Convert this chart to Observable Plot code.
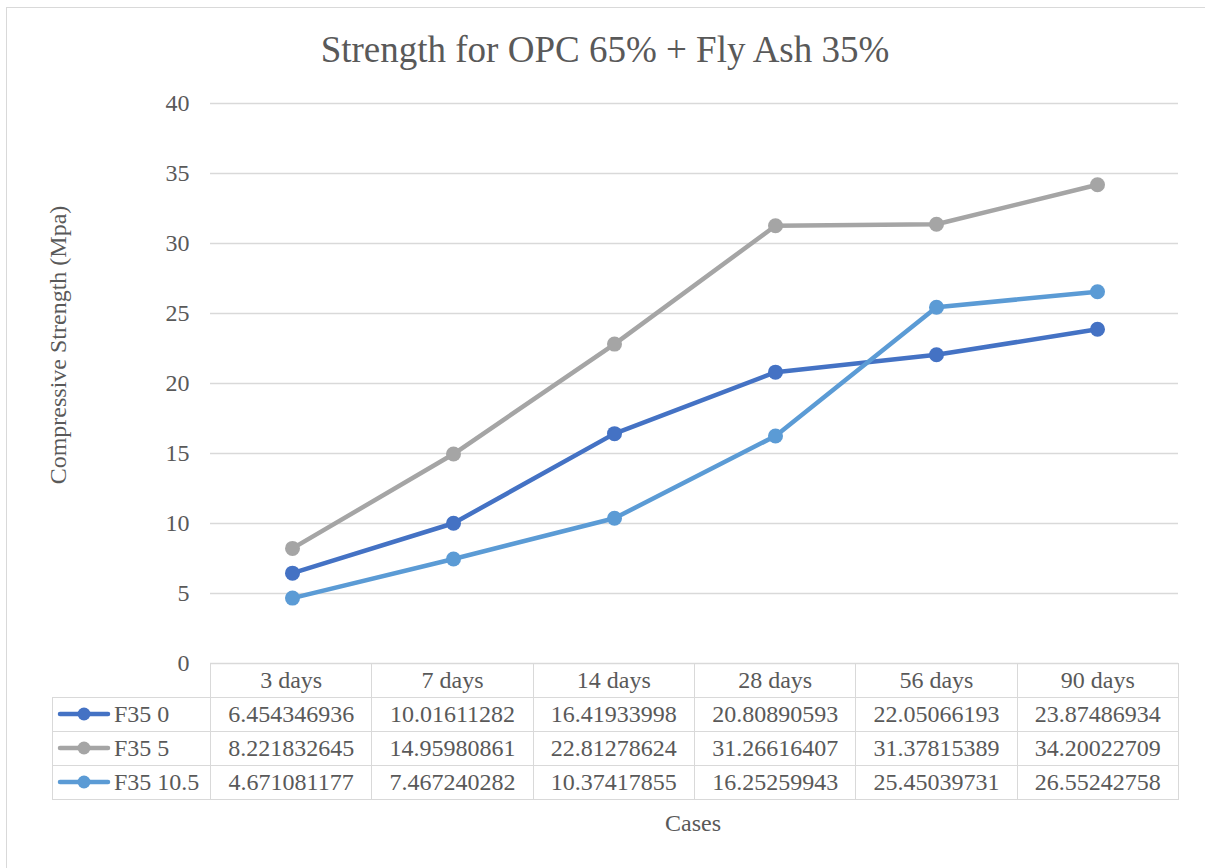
<!DOCTYPE html>
<html>
<head>
<meta charset="utf-8">
<script src="https://cdn.jsdelivr.net/npm/d3@7"></script>
<script src="https://cdn.jsdelivr.net/npm/@observablehq/plot@0.6"></script>
<style>
  html, body { margin: 0; padding: 0; background: #fff; }
  #wrap { position: relative; width: 1205px; height: 868px; overflow: hidden; font-family: "Liberation Serif", "Tinos", "Times New Roman", serif; color: #595959; }
  #frame { position: absolute; left: 6px; top: 7px; width: 1400px; height: 1100px; border: 1.5px solid #D9D9D9; box-sizing: border-box; }
  #title { position: absolute; left: 0; width: 1210px; top: 30px; text-align: center; font-size: 37px; line-height: 40px; white-space: nowrap; }
  #ylabel { position: absolute; left: 58px; top: 345px; transform: translate(-50%, -50%) rotate(-90deg); font-size: 24px; white-space: nowrap; }
  #xlabel { position: absolute; left: 693px; top: 823px; transform: translate(-50%, -50%); font-size: 24px; white-space: nowrap; }
  #chart { position: absolute; left: 0; top: 0; }
  #table { position: absolute; left: 52px; top: 663px; border-collapse: collapse; table-layout: fixed; font-size: 24px; }
  #table td { border: 1.5px solid #D9D9D9; height: 33px; padding: 0; text-align: center; white-space: nowrap; line-height: 33px; }
  #table td.blank { border-left: none; border-top: none; }
  #table td.key { text-align: left; }
  #table td.key svg { vertical-align: middle; margin-left: 4px; margin-right: 3px; position: relative; top: -2px; }
</style>
</head>
<body>
<div id="wrap">
  <div id="frame"></div>
  <div id="chart"></div>
  <div id="title">Strength for OPC 65% + Fly Ash 35%</div>
  <div id="ylabel">Compressive Strength (Mpa)</div>
  <div id="xlabel">Cases</div>
  <table id="table"></table>
</div>
<script>
const categories = ["3 days", "7 days", "14 days", "28 days", "56 days", "90 days"];
const seriesNames = ["F35 0", "F35 5", "F35 10.5"];
const seriesColors = ["#4472C4", "#A5A5A5", "#5B9BD5"];
const f35_0 = [6.454346936, 10.01611282, 16.41933998, 20.80890593, 22.05066193, 23.87486934];
const f35_5 = [8.221832645, 14.95980861, 22.81278624, 31.26616407, 31.37815389, 34.20022709];
const f35_105 = [4.671081177, 7.467240282, 10.37417855, 16.25259943, 25.45039731, 26.55242758];
const yTicks = [0, 5, 10, 15, 20, 25, 30, 35, 40];

const seriesValues = [f35_0, f35_5, f35_105];
const data = seriesNames.flatMap((s, i) => categories.map((c, j) => ({series: s, day: c, value: seriesValues[i][j]})));

const marks = [
  Plot.gridY(yTicks, {stroke: "#D9D9D9", strokeOpacity: 1, strokeWidth: 1.3}),
  Plot.axisY(yTicks, {tickSize: 0, tickPadding: 21, fontSize: 24, fontFamily: "Liberation Serif, Tinos, Times New Roman, serif", fill: "#595959", label: null})
];
seriesNames.forEach((s) => {
  const d = data.filter(r => r.series === s);
  marks.push(Plot.line(d, {x: "day", y: "value", stroke: "series", strokeWidth: 4.5, strokeLinecap: "round", strokeLinejoin: "round"}));
  marks.push(Plot.dot(d, {x: "day", y: "value", fill: "series", r: 7.5, stroke: "none"}));
});

const chart = Plot.plot({
  width: 1205,
  height: 868,
  marginLeft: 210,
  marginRight: 27,
  marginTop: 103,
  marginBottom: 205,
  style: {background: "transparent", fontFamily: "Liberation Serif, Tinos, Times New Roman, serif"},
  x: {type: "point", domain: categories, padding: 0.5, align: 0.5, axis: null},
  y: {domain: [0, 40], axis: null},
  color: {domain: seriesNames, range: seriesColors},
  marks
});
document.getElementById("chart").appendChild(chart);

// data table under the plot area
const table = document.getElementById("table");
const colg = document.createElement("colgroup");
const c0 = document.createElement("col"); c0.style.width = "158px"; colg.appendChild(c0);
const colW = (1205 - 210 - 27) / categories.length;
categories.forEach(() => { const c = document.createElement("col"); c.style.width = colW + "px"; colg.appendChild(c); });
table.appendChild(colg);
const head = document.createElement("tr");
const blank = document.createElement("td"); blank.className = "blank"; head.appendChild(blank);
categories.forEach(c => { const td = document.createElement("td"); td.textContent = c; head.appendChild(td); });
table.appendChild(head);
seriesNames.forEach((s, i) => {
  const tr = document.createElement("tr");
  const k = document.createElement("td"); k.className = "key";
  const col = seriesColors[i];
  k.innerHTML = `<svg width="54" height="16"><line x1="3" y1="8" x2="51" y2="8" stroke="${col}" stroke-width="4.5" stroke-linecap="round"/><circle cx="27" cy="8" r="6.5" fill="${col}"/></svg>${s}`;
  tr.appendChild(k);
  seriesValues[i].forEach(v => { const td = document.createElement("td"); td.textContent = String(v); tr.appendChild(td); });
  table.appendChild(tr);
});
</script>
</body>
</html>
